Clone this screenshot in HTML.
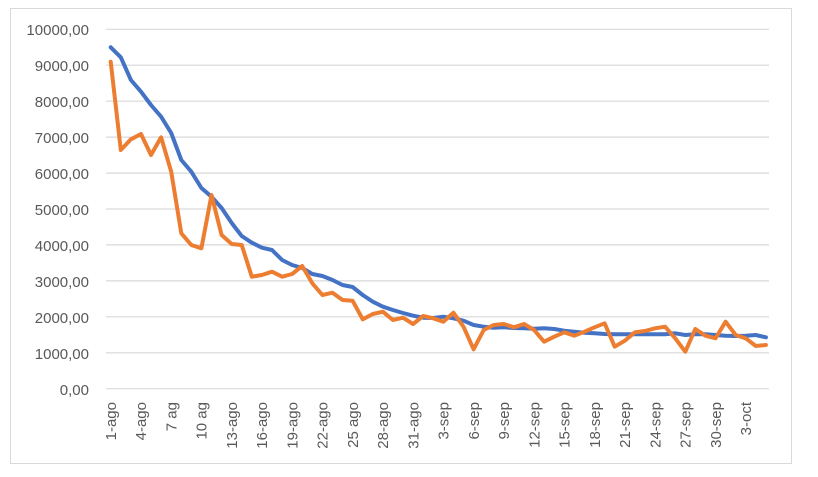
<!DOCTYPE html>
<html><head><meta charset="utf-8"><style>
html,body{margin:0;padding:0;background:#fff;}
svg{display:block;font-family:"Liberation Sans",Arial,sans-serif;}
</style></head><body>
<svg width="818" height="477" viewBox="0 0 818 477" xmlns="http://www.w3.org/2000/svg">
<rect x="10.5" y="8.5" width="781" height="455" fill="#fff" stroke="#d9d9d9"/>
<g stroke="#d9d9d9" stroke-width="1.2">
<line x1="106" x2="769" y1="29.3" y2="29.3"/><line x1="106" x2="769" y1="65.2" y2="65.2"/>
<line x1="106" x2="769" y1="101.2" y2="101.2"/><line x1="106" x2="769" y1="137.1" y2="137.1"/>
<line x1="106" x2="769" y1="173.1" y2="173.1"/><line x1="106" x2="769" y1="209" y2="209"/>
<line x1="106" x2="769" y1="244.9" y2="244.9"/><line x1="106" x2="769" y1="280.9" y2="280.9"/>
<line x1="106" x2="769" y1="316.8" y2="316.8"/><line x1="106" x2="769" y1="352.8" y2="352.8"/>
<line x1="106" x2="769" y1="388.7" y2="388.7"/>
</g>
<g font-size="15" fill="#595959" text-anchor="end">
<text x="89" y="35">10000,00</text><text x="89" y="71">9000,00</text><text x="89" y="107">8000,00</text>
<text x="89" y="143">7000,00</text><text x="89" y="179">6000,00</text><text x="89" y="215">5000,00</text>
<text x="89" y="251">4000,00</text><text x="89" y="287">3000,00</text><text x="89" y="323">2000,00</text>
<text x="89" y="359">1000,00</text><text x="89" y="395">0,00</text>
</g>
<g font-size="15" fill="#595959" text-anchor="end">
<text transform="translate(116,402) rotate(-90)">1-ago</text>
<text transform="translate(146.2,402) rotate(-90)">4-ago</text>
<text transform="translate(176.5,402) rotate(-90)">7 ag</text>
<text transform="translate(206.7,402) rotate(-90)">10 ag</text>
<text transform="translate(237,402) rotate(-90)">13-ago</text>
<text transform="translate(267.2,402) rotate(-90)">16-ago</text>
<text transform="translate(297.5,402) rotate(-90)">19-ago</text>
<text transform="translate(327.7,402) rotate(-90)">22-ago</text>
<text transform="translate(357.9,402) rotate(-90)">25 ago</text>
<text transform="translate(388.2,402) rotate(-90)">28-ago</text>
<text transform="translate(418.4,402) rotate(-90)">31-ago</text>
<text transform="translate(448.7,402) rotate(-90)">3-sep</text>
<text transform="translate(478.9,402) rotate(-90)">6-sep</text>
<text transform="translate(509.1,402) rotate(-90)">9-sep</text>
<text transform="translate(539.4,402) rotate(-90)">12-sep</text>
<text transform="translate(569.6,402) rotate(-90)">15-sep</text>
<text transform="translate(599.9,402) rotate(-90)">18-sep</text>
<text transform="translate(630.1,402) rotate(-90)">21-sep</text>
<text transform="translate(660.3,402) rotate(-90)">24-sep</text>
<text transform="translate(690.6,402) rotate(-90)">27-sep</text>
<text transform="translate(720.8,402) rotate(-90)">30-sep</text>
<text transform="translate(751.1,402) rotate(-90)">3-oct</text>
</g>
<polyline fill="none" stroke="#4472c4" stroke-width="4" stroke-linejoin="round" stroke-linecap="round" points="110.7,47.3 120.8,57.3 130.9,80 141,91.7 151,105 161.1,116.7 171.2,133 181.3,160 191.3,171.7 201.4,188 211.5,196.7 221.6,208 231.7,223 241.7,236 251.8,242.7 261.9,247.7 272,250 282.1,260 292.1,265 302.2,268 312.3,274 322.4,276 332.5,280 342.5,285 352.6,287 362.7,295 372.8,301.7 382.9,306.7 392.9,310 403,313 413.1,315.7 423.2,317.7 433.3,318 443.3,316.7 453.4,318.3 463.5,320.7 473.6,325 483.7,326.7 493.7,327.7 503.8,327.3 513.9,328 524,328.3 534.1,328.7 544.1,328.3 554.2,329 564.3,330.7 574.4,331.7 584.5,332.7 594.5,333.3 604.6,334 614.7,334.3 624.8,334.3 634.9,334.3 644.9,334.3 655,334.3 665.1,334.3 675.2,333.3 685.3,335 695.3,334.3 705.4,334.3 715.5,335 725.6,335.7 735.7,336 745.7,335.7 755.8,335 765.9,337.3"/>
<polyline fill="none" stroke="#ed7d31" stroke-width="4" stroke-linejoin="round" stroke-linecap="round" points="110.7,61.7 120.8,150 130.9,139.3 141,134 151,155 161.1,137.3 171.2,171.7 181.3,233.3 191.3,245 201.4,248.3 211.5,195 221.6,235 231.7,244 241.7,245 251.8,276.7 261.9,275 272,271.7 282.1,276.7 292.1,274 302.2,266 312.3,283.3 322.4,295 332.5,292.7 342.5,300 352.6,300.7 362.7,319.3 372.8,314 382.9,311.7 392.9,320 403,317.7 413.1,324 423.2,316 433.3,318.3 443.3,321.7 453.4,312.7 463.5,326.7 473.6,349.3 483.7,330 493.7,325 503.8,324 513.9,327.3 524,324 534.1,330 544.1,341.7 554.2,336.7 564.3,332.3 574.4,335.7 584.5,331.7 594.5,327.3 604.6,323.3 614.7,346.7 624.8,340.7 634.9,332.3 644.9,331 655,328.3 665.1,326.7 675.2,338.3 685.3,351.7 695.3,329 705.4,335.7 715.5,338.3 725.6,321.7 735.7,335 745.7,338.3 755.8,346 765.9,345"/>
</svg>
</body></html>
